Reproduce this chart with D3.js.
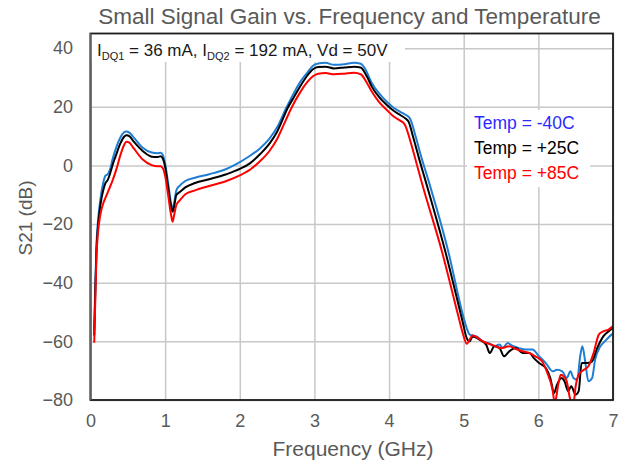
<!DOCTYPE html>
<html><head><meta charset="utf-8">
<script src="https://cdn.jsdelivr.net/npm/d3@7"></script>
<style>
body{margin:0;background:#fff}
text{font-family:"Liberation Sans",Arial,Helvetica,sans-serif}
</style>
</head><body>
<svg id="c" width="620" height="463"></svg>
<script>
// ---- data ----
const xTicks = [0,1,2,3,4,5,6,7];
const yTicks = [-80,-60,-40,-20,0,20,40];
const seriesNames = ["Temp = -40C","Temp = +25C","Temp = +85C"];

// [frequency GHz, S21 dB]
const gainM40 = [[0.05,-56],[0.065,-40],[0.08,-27],[0.1,-19],[0.13,-12],[0.17,-6],[0.2,-3.5],[0.23,-3],[0.26,-1.5],[0.3,2.5],[0.35,6.5],[0.4,9.5],[0.45,11.3],[0.48,11.6],[0.52,11.2],[0.58,9.5],[0.7,6],[0.82,4.4],[0.9,4.2],[0.94,4.3],[0.97,3.5],[1.0,0.5],[1.04,-6],[1.08,-13],[1.1,-15],[1.12,-13],[1.15,-8.5],[1.2,-6.8],[1.27,-5.3],[1.4,-4.2],[1.59,-3],[1.82,-1.2],[1.96,0.5],[2.1,2.7],[2.27,5.8],[2.4,9.2],[2.5,13],[2.62,19.5],[2.72,24.5],[2.81,28.5],[2.9,31.5],[2.98,34],[3.05,34.8],[3.15,35],[3.26,34.3],[3.4,34.5],[3.53,35],[3.62,34.7],[3.69,32.5],[3.77,28],[3.87,24.5],[3.97,21.7],[4.07,19.5],[4.15,18.3],[4.22,17.3],[4.28,16],[4.36,9.5],[4.43,3],[4.52,-4.5],[4.79,-29],[5.0,-52],[5.04,-55.5],[5.08,-57.7],[5.17,-58.3],[5.26,-60],[5.35,-60.8],[5.41,-61.7],[5.48,-61.1],[5.52,-62.3],[5.59,-60.6],[5.65,-61.5],[5.74,-62.3],[5.83,-62.8],[5.92,-62.8],[6.01,-65.1],[6.1,-67.4],[6.19,-70.2],[6.25,-69.7],[6.32,-70.2],[6.38,-72.5],[6.43,-70.2],[6.47,-72.5],[6.52,-73.1],[6.56,-65.1],[6.59,-61.7],[6.63,-67.4],[6.67,-73.6],[6.72,-72.5],[6.76,-66.3],[6.83,-61.7],[6.89,-60],[6.98,-57.7],[7.0,-57.3]];

const gainP25 = [[0.05,-58],[0.065,-42],[0.08,-29],[0.1,-21],[0.13,-14],[0.17,-8.5],[0.2,-6],[0.23,-5],[0.26,-3],[0.3,0.5],[0.335,3],[0.4,7.5],[0.45,9.8],[0.48,10.3],[0.52,10],[0.58,8.1],[0.71,4.7],[0.82,3],[0.9,2.9],[0.94,3.1],[0.97,2.3],[1.0,-0.5],[1.04,-7.5],[1.08,-14],[1.1,-15.8],[1.12,-14],[1.15,-10.1],[1.2,-9],[1.27,-7.5],[1.4,-6],[1.59,-4.7],[1.82,-3],[2.0,-1.2],[2.14,0.8],[2.27,3.8],[2.4,7.5],[2.5,11.5],[2.65,20],[2.73,23.5],[2.81,27],[2.9,30.5],[2.98,32.8],[3.05,33.6],[3.15,33.7],[3.26,33.1],[3.4,33.4],[3.53,33.7],[3.62,33.4],[3.7,30.5],[3.77,26.8],[3.87,23.2],[3.97,20.6],[4.07,18.5],[4.15,17.2],[4.22,16],[4.26,15],[4.33,9],[4.4,2.5],[4.48,-4.5],[4.75,-29],[4.99,-53.8],[5.04,-58.9],[5.08,-60],[5.12,-58.3],[5.21,-59.4],[5.3,-61.1],[5.35,-64],[5.41,-61.7],[5.48,-62.3],[5.54,-65.1],[5.61,-63.4],[5.7,-62.3],[5.79,-64],[5.88,-64],[5.94,-65.7],[6.01,-67.4],[6.1,-69.1],[6.16,-72.5],[6.21,-77.6],[6.25,-74.8],[6.31,-72.5],[6.35,-73.6],[6.4,-77],[6.44,-75.3],[6.5,-78.2],[6.54,-77],[6.58,-67.4],[6.65,-67.4],[6.72,-66.8],[6.78,-62.8],[6.87,-58.3],[6.94,-56.6],[7.0,-55.5]];

const gainP85 = [[0.05,-60.5],[0.065,-45],[0.08,-31],[0.1,-23],[0.13,-17],[0.17,-13],[0.21,-10.5],[0.25,-8],[0.29,-5.5],[0.35,-1],[0.4,3.5],[0.45,7],[0.48,8.1],[0.52,7.8],[0.58,5.8],[0.7,2],[0.82,0.1],[0.9,-0.3],[0.94,-0.3],[0.97,-1],[1.0,-3.5],[1.04,-10],[1.08,-17],[1.1,-19.2],[1.12,-17],[1.15,-13.5],[1.2,-11.8],[1.27,-9.8],[1.4,-8.5],[1.59,-7],[1.82,-5.3],[2.0,-3.4],[2.15,-1.2],[2.27,1.4],[2.4,5],[2.5,9],[2.6,14.5],[2.7,20],[2.81,25],[2.9,28.3],[2.98,30.4],[3.05,31.3],[3.15,31.5],[3.26,31.1],[3.4,31.3],[3.53,31.6],[3.62,31.1],[3.7,28.3],[3.77,25.1],[3.87,21.5],[3.97,18.9],[4.07,16.5],[4.15,15.3],[4.21,14],[4.3,7],[4.37,0.5],[4.44,-6],[4.71,-29.5],[4.93,-51.6],[4.99,-57.5],[5.04,-60.8],[5.12,-58],[5.19,-58.9],[5.28,-60.3],[5.37,-61.1],[5.43,-61.7],[5.5,-62.3],[5.61,-61.7],[5.7,-62.6],[5.79,-63.4],[5.88,-64],[5.96,-65.1],[6.05,-66.8],[6.12,-70.8],[6.19,-76.5],[6.22,-81],[6.27,-74.2],[6.3,-71.4],[6.34,-72],[6.38,-73.6],[6.43,-80],[6.47,-81],[6.5,-75.3],[6.54,-71.4],[6.61,-69.7],[6.67,-68.5],[6.74,-64],[6.81,-57.7],[6.87,-56.6],[6.94,-56],[7.0,-54.8]];

// ---- drawing ----
const svg = d3.select('#c');
const L = 90.5, R = 613, T = 33.5, B = 400;
const x = d3.scaleLinear().domain([0,7]).range([L,R]);
const y = d3.scaleLinear().domain([-80,45]).range([B,T]);
const gridCol = '#c8c8c8', txtCol = '#595959';
const fmt = d3.format('d');

// gridlines
svg.append('g').attr('transform',`translate(0,${B})`)
  .call(d3.axisBottom(x).tickValues(xTicks).tickSize(-(B-T)).tickFormat(''))
  .call(g=>{g.select('.domain').remove();g.selectAll('line').attr('stroke',gridCol).attr('stroke-width',1.5);});
svg.append('g').attr('transform',`translate(${L},0)`)
  .call(d3.axisLeft(y).tickValues(yTicks).tickSize(-(R-L)).tickFormat(''))
  .call(g=>{g.select('.domain').remove();g.selectAll('line').attr('stroke',gridCol).attr('stroke-width',1.5);});

// annotation & legend background boxes
svg.append('rect').attr('x',L).attr('y',T).attr('width',405-L).attr('height',62-T).attr('fill','#fff');
svg.append('rect').attr('x',467).attr('y',110).attr('width',123).attr('height',77).attr('fill','#fff');

// lines
svg.append('clipPath').attr('id','clip').append('rect')
  .attr('x',L).attr('y',T).attr('width',R-L).attr('height',B-T);
const line = d3.line().x(d=>x(d[0])).y(d=>y(d[1])).curve(d3.curveMonotoneX);
const series = [
  {data:gainM40, color:'#1f7ed4', text:'#2b2bff'},
  {data:gainP25, color:'#000000', text:'#000000'},
  {data:gainP85, color:'#ff0000', text:'#ff0000'}
];
const lg = svg.append('g').attr('clip-path','url(#clip)');
series.forEach(s=>{
  lg.append('path').attr('d',line(s.data)).attr('fill','none')
    .attr('stroke',s.color).attr('stroke-width',2).attr('stroke-linejoin','round');
});

// frame
svg.append('rect').attr('x',L).attr('y',T).attr('width',R-L).attr('height',B-T)
  .attr('fill','none').attr('stroke','#1a1a1a').attr('stroke-width',1.8);
svg.append('line').attr('x1',L).attr('x2',L).attr('y1',T).attr('y2',B)
  .attr('stroke','#606060').attr('stroke-width',2);

// tick labels
svg.append('g').attr('transform',`translate(${L},0)`)
  .call(d3.axisLeft(y).tickValues(yTicks).tickSize(0).tickPadding(17.5).tickFormat(fmt))
  .call(g=>{g.select('.domain').remove();
    g.selectAll('text').attr('fill',txtCol).style('font-size','18px').style('font-family','"Liberation Sans",Arial,sans-serif');});
svg.append('g').attr('transform',`translate(0,${B})`)
  .call(d3.axisBottom(x).tickValues(xTicks).tickSize(0).tickPadding(14).tickFormat(fmt))
  .call(g=>{g.select('.domain').remove();
    g.selectAll('text').attr('fill',txtCol).style('font-size','18px').style('font-family','"Liberation Sans",Arial,sans-serif');});

// titles
svg.append('text').attr('x',349.5).attr('y',24).attr('text-anchor','middle')
  .attr('fill',txtCol).style('font-size','22.5px').text('Small Signal Gain vs. Frequency and Temperature');
svg.append('text').attr('x',353).attr('y',456).attr('text-anchor','middle')
  .attr('fill',txtCol).style('font-size','21px').text('Frequency (GHz)');
svg.append('text').attr('transform','translate(32,218) rotate(-90)').attr('text-anchor','middle')
  .attr('fill',txtCol).style('font-size','19px').text('S21 (dB)');

// annotation
const ann = svg.append('text').attr('x',97).attr('y',56).attr('fill','#1a1a1a').style('font-size','17px');
ann.append('tspan').text('I');
ann.append('tspan').attr('dy',4).style('font-size','11px').text('DQ1');
ann.append('tspan').attr('dy',-4).text(' = 36 mA, I');
ann.append('tspan').attr('dy',4).style('font-size','11px').text('DQ2');
ann.append('tspan').attr('dy',-4).text(' = 192 mA, Vd = 50V');

// legend
series.forEach((s,i)=>{
  svg.append('text').attr('x',474).attr('y',129+i*25).attr('fill',s.text)
    .style('font-size','17.5px').text(seriesNames[i]);
});
</script>
</body></html>
